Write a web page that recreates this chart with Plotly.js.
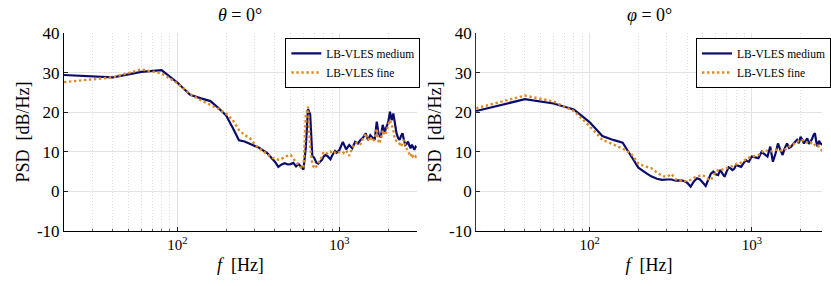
<!DOCTYPE html>
<html>
<head>
<meta charset="utf-8">
<script src="https://cdn.plot.ly/plotly-3.0.1.min.js"></script>
<style>html,body{margin:0;padding:0;background:#fff;}#chart{width:831px;height:286px;}</style>
</head>
<body>
<div id="chart"></div>
<script>
// Frequencies [Hz]
const freq = [20,40,60,80,100,120,140,160,180,200,220,240,260,280,300,320,340,360,380,400,
  420,440,460,480,500,520,540,560,580,600,620,640,660,680,700,720,740,760,780,800,
  820,840,860,880,900,920,940,960,980,1000,
  1050,1100,1150,1200,1250,1300,1350,1400,1450,1500,1550,1600,1650,1700,1750,1800,1850,1900,1950,2000,
  2050,2100,2150,2200,2250,2300,2350,2400,2450,2500,2550,2600,2650,2700,2750,2800,2850,2900,2950,3000];

// theta = 0 deg
const thetaMedium = [29.4,28.8,30.2,30.6,27.5,24.4,23.5,22.8,21.0,19.2,16.0,12.9,12.6,12.1,11.6,11.0,10.3,9.6,8.5,7.5,
  6.2,6.8,7.1,6.8,6.9,7.2,6.3,6.9,6.2,5.5,11.0,20.8,19.5,9.0,8.4,7.3,7.0,7.5,8.0,8.8,
  9.2,9.0,8.6,8.1,9.0,9.6,10.2,9.8,10.1,10.45,
  12.5,10.6,11.7,10.9,12.5,12.1,13.0,13.6,14.7,13.0,14.2,13.5,13.0,17.6,14.0,13.8,16.8,15.0,16.3,17.5,
  20.1,18.0,19.7,17.0,14.7,13.5,13.0,14.0,14.7,13.0,11.7,12.0,12.55,11.5,10.9,11.8,11.0,10.5,11.3,11.0];
const thetaFine = [27.6,28.8,30.8,29.8,27.3,24.6,23.0,21.9,20.8,19.6,18.0,15.5,14.2,13.5,11.9,10.9,10.1,9.2,8.6,8.3,
  8.0,8.2,8.8,9.0,9.2,8.2,7.5,6.8,6.0,5.8,19.0,21.4,11.0,7.0,5.8,6.3,7.1,7.8,8.8,10.0,
  9.8,9.6,9.9,10.1,9.7,10.0,9.8,9.5,9.8,9.9,
  9.6,10.4,9.0,11.0,12.1,12.5,12.0,13.5,14.7,13.0,13.8,12.6,13.2,15.9,12.1,13.0,15.5,14.2,15.0,16.8,
  18.0,16.8,15.5,13.0,12.8,12.6,12.0,11.3,12.4,13.0,11.5,10.5,10.0,9.5,8.8,9.6,8.6,8.4,8.8,8.2];

// phi = 0 deg
const phiMedium = [20.3,23.3,22.2,20.7,17.5,14.0,13.0,12.3,9.0,6.0,4.8,3.8,3.2,2.9,3.0,3.0,2.7,2.8,2.7,2.2,
  1.2,2.5,3.3,3.0,2.2,1.4,3.0,4.5,5.0,4.3,4.1,5.4,4.5,3.7,5.0,6.1,5.8,5.4,5.7,6.7,
  6.5,6.4,6.2,6.8,7.4,7.9,7.6,7.5,8.2,8.8,
  8.6,8.4,10.0,9.3,8.8,11.3,7.5,9.5,12.1,10.5,9.2,11.0,12.1,11.0,11.3,12.0,12.4,13.0,12.2,13.8,
  13.0,12.1,12.8,13.4,12.0,12.6,13.2,14.2,14.7,12.5,11.3,12.8,12.1,12.0,11.5,12.2,11.0,11.6,10.8,11.2];
const phiFine = [21.0,24.2,22.7,20.3,16.5,13.0,11.9,10.8,9.6,7.0,6.3,5.9,4.8,3.9,3.7,4.4,3.0,2.7,2.5,2.7,
  2.9,3.4,3.8,4.0,4.1,3.6,3.1,2.9,3.8,5.0,5.4,5.6,5.5,5.8,5.9,6.0,6.2,6.3,6.5,6.8,
  7.1,7.0,7.3,7.6,7.9,8.0,8.3,8.5,8.6,8.8,
  9.0,9.2,9.8,10.5,10.2,10.0,10.3,10.4,10.6,10.4,10.2,10.5,11.0,11.4,11.7,11.9,12.2,12.5,12.7,12.6,
  12.9,12.9,12.5,12.3,12.1,12.4,12.0,11.6,11.8,11.4,11.6,11.0,10.6,10.4,10.2,10.0,9.8,9.9,9.6,9.5];

const seriesNames = ['LB-VLES medium', 'LB-VLES fine'];
const panelTitles = ['<i>θ</i> = 0°', '<i>φ</i> = 0°'];
const yTickVals = [-10,0,10,20,30,40];
const yTickText = ['-10','0','10','20','30','40'];
const xTickVals = [100,1000];
const xTickText = ['10<sup>2</sup>','10<sup>3</sup>'];
const xMinorVals = [20,30,40,50,60,70,80,90,200,300,400,500,600,700,800,900,2000,3000];

const navy = '#0b0b6e';
const orange = '#de8a22';
const FONT = "'Liberation Serif', 'Times New Roman', serif";

function med(y, xa, ya, lg) {
  return {x: freq, y: y, xaxis: xa, yaxis: ya, type: 'scatter', mode: 'lines', name: seriesNames[0],
    legend: lg, line: {color: navy, width: 2.2}};
}
function fine(y, xa, ya, lg) {
  return {x: freq, y: y, xaxis: xa, yaxis: ya, type: 'scatter', mode: 'lines', name: seriesNames[1],
    legend: lg, line: {color: orange, width: 2.4, dash: '2.4px,2.6px'}};
}

const data = [
  med(thetaMedium, 'x', 'y', 'legend'),
  fine(thetaFine, 'x', 'y', 'legend'),
  med(phiMedium, 'x2', 'y2', 'legend2'),
  fine(phiFine, 'x2', 'y2', 'legend2')
];

function xax(domain, range, anchor) {
  return {domain: domain, type: 'log', range: range, anchor: anchor,
    tickvals: xTickVals, ticktext: xTickText, ticks: 'inside', ticklen: 4, tickcolor: '#222',
    showline: true, linecolor: '#000', linewidth: 1, mirror: false,
    showgrid: true, gridcolor: '#e3e3e3', gridwidth: 1, zeroline: false,
    tickfont: {family: FONT, size: 15, color: '#000'},
    minor: {tickvals: xMinorVals, ticks: 'inside', ticklen: 2, tickcolor: '#555',
      showgrid: true, gridcolor: '#dcdcdc', griddash: '1px,2px', gridwidth: 1},
    title: {text: '<i>f</i>  [Hz]', font: {family: FONT, size: 18, color: '#000'}, standoff: 6}};
}
function yax(anchor, lineColor) {
  return {domain: [0, 1], range: [-10, 40], anchor: anchor,
    tickvals: yTickVals, ticktext: yTickText, ticks: 'inside', ticklen: 4, tickcolor: '#222',
    showline: true, linecolor: lineColor, linewidth: 1, zeroline: false,
    showgrid: true, gridcolor: '#e3e3e3', gridwidth: 1,
    tickfont: {family: FONT, size: 17, color: '#000'},
    title: {text: 'PSD  [dB/Hz]', font: {family: FONT, size: 18, color: '#000'}, standoff: 2}};
}

const legendBase = {bgcolor: '#fff', bordercolor: '#000', borderwidth: 1,
  font: {family: FONT, size: 11.5, color: '#000'}, xanchor: 'left', yanchor: 'top',
  xref: 'paper', yref: 'paper', itemwidth: 30, tracegroupgap: 0};

const layout = {
  width: 831, height: 286,
  margin: {l: 64, r: 0, t: 33, b: 55},
  paper_bgcolor: '#fff', plot_bgcolor: '#fff',
  showlegend: true,
  xaxis: xax([0, 0.4654], [Math.log10(20), Math.log10(3000)], 'y'),
  yaxis: yax('x', '#000'),
  xaxis2: xax([0.5437, 1], [Math.log10(20), Math.log10(2710)], 'y2'),
  yaxis2: yax('x2', '#333'),
  legend: Object.assign({}, legendBase, {x: 0.292, y: 0.975}),
  legend2: Object.assign({}, legendBase, {x: 0.834, y: 0.975}),
  annotations: [
    {text: panelTitles[0], xref: 'paper', yref: 'paper', x: 0.2327, y: 1.091, showarrow: false,
      xanchor: 'center', yanchor: 'middle', font: {family: FONT, size: 18, color: '#000'}},
    {text: panelTitles[1], xref: 'paper', yref: 'paper', x: 0.7718, y: 1.091, showarrow: false,
      xanchor: 'center', yanchor: 'middle', font: {family: FONT, size: 18, color: '#000'}}
  ]
};

Plotly.newPlot('chart', data, layout, {displayModeBar: false, staticPlot: true});
</script>
</body>
</html>
